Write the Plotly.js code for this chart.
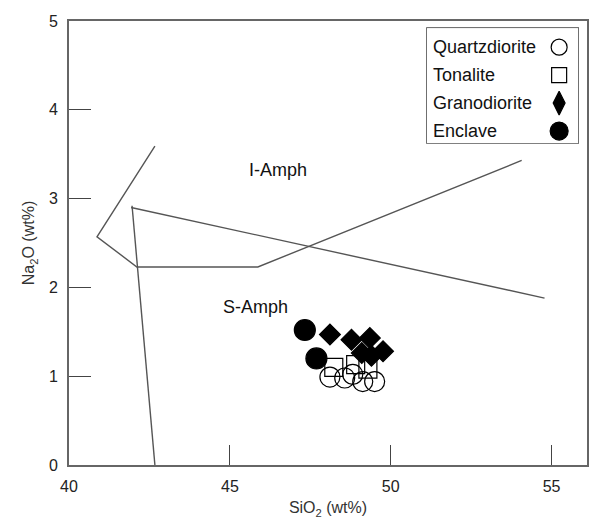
<!DOCTYPE html>
<html>
<head>
<meta charset="utf-8">
<script src="https://cdn.plot.ly/plotly-3.0.1.min.js"></script>
<style>html,body{margin:0;padding:0;background:#fff;}#chart{width:589px;height:524px;}</style>
</head>
<body>
<div id="chart"></div>
<script>
// Data
var categories = ["Quartzdiorite", "Tonalite", "Granodiorite", "Enclave"];

var quartzdiorite_SiO2 = [48.11, 48.57, 48.82, 49.13, 49.50];
var quartzdiorite_Na2O = [0.99, 0.98, 1.02, 0.94, 0.94];

var tonalite_SiO2 = [48.23, 48.91, 49.29];
var tonalite_Na2O = [1.10, 1.13, 1.08];

var granodiorite_SiO2 = [48.11, 48.78, 49.35, 49.10, 49.40, 49.76];
var granodiorite_Na2O = [1.47, 1.41, 1.43, 1.26, 1.23, 1.28];

var enclave_SiO2 = [47.33, 47.69];
var enclave_Na2O = [1.52, 1.20];

// Discrimination field boundaries
var boundaryA_SiO2 = [42.67, 40.87, 42.11, 45.87, 54.07];
var boundaryA_Na2O = [3.59, 2.57, 2.23, 2.23, 3.43];
var boundaryB_SiO2 = [41.93, 54.78];
var boundaryB_Na2O = [2.90, 1.88];
var boundaryC_SiO2 = [41.96, 42.67];
var boundaryC_Na2O = [2.92, 0.0];

var fieldLabels = ["I-Amph", "S-Amph"];
var fieldLabel_SiO2 = [46.49, 45.81];
var fieldLabel_Na2O = [3.32, 1.78];

var xTicks = [40, 45, 50, 55];
var yTicks = [0, 1, 2, 3, 4, 5];

// Styles
var symbols = ["circle-open", "square-open", "diamond", "circle"];
var legendSymbols = ["circle-open", "square-open", "diamond-tall", "circle"];
var sizes = [20, 18, 16, 21];
var legendSizes = [16, 15, 17, 18];
var lineColor = "#555";

var seriesX = [quartzdiorite_SiO2, tonalite_SiO2, granodiorite_SiO2, enclave_SiO2];
var seriesY = [quartzdiorite_Na2O, tonalite_Na2O, granodiorite_Na2O, enclave_Na2O];

var traces = [];
[[boundaryA_SiO2, boundaryA_Na2O], [boundaryB_SiO2, boundaryB_Na2O], [boundaryC_SiO2, boundaryC_Na2O]].forEach(function (b) {
  traces.push({
    x: b[0], y: b[1], type: "scatter", mode: "lines",
    line: {color: lineColor, width: 1.4}, hoverinfo: "skip", showlegend: false
  });
});

categories.forEach(function (c, i) {
  traces.push({
    x: seriesX[i], y: seriesY[i], type: "scatter", mode: "markers", name: c,
    marker: {symbol: symbols[i], size: sizes[i], color: "#000", line: {color: "#000", width: 1.2}},
    showlegend: false
  });
});

// Custom legend (symbol to the right of the text), on an overlay axis
var legendIdx = categories.map(function (c, i) { return i; });
categories.forEach(function (c, i) {
  traces.push({
    x: [0.874], y: [legendIdx[i]], xaxis: "x2", yaxis: "y2", type: "scatter", mode: "markers",
    marker: {symbol: legendSymbols[i], size: legendSizes[i], color: "#000", line: {color: "#000", width: 1.2}},
    showlegend: false, hoverinfo: "skip"
  });
});

var annotations = fieldLabels.map(function (t, i) {
  return {x: fieldLabel_SiO2[i], y: fieldLabel_Na2O[i], xref: "x", yref: "y", text: t,
          showarrow: false, font: {family: "Liberation Sans, Arial, sans-serif", size: 18, color: "#111"}};
});
categories.forEach(function (c, i) {
  annotations.push({x: 0.03, y: legendIdx[i], xref: "x2", yref: "y2", text: c, xanchor: "left",
                    showarrow: false, font: {family: "Liberation Sans, Arial, sans-serif", size: 18, color: "#111"}});
});

var legX0 = 0.691, legX1 = 0.983, legY0 = 0.725, legY1 = 0.984;

var layout = {
  width: 589, height: 524,
  margin: {l: 69, r: 2, t: 21, b: 59},
  paper_bgcolor: "#fff", plot_bgcolor: "#fff",
  showlegend: false,
  font: {family: "Liberation Sans, Arial, sans-serif", color: "#222"},
  xaxis: {
    range: [40, 56.1], tickvals: xTicks, ticks: "inside", ticklen: 20, tickwidth: 1.2, tickcolor: "#444",
    showline: true, linecolor: "#666", linewidth: 2, mirror: true, showgrid: false, zeroline: false,
    tickfont: {size: 16, color: "#222"}, ticklabelstandoff: 6,
    title: {text: "SiO<sub>2</sub> (wt%)", font: {size: 16, color: "#333"}, standoff: 8}
  },
  yaxis: {
    range: [0, 5], tickvals: yTicks, ticks: "inside", ticklen: 22, tickwidth: 1.2, tickcolor: "#444",
    showline: true, linecolor: "#666", linewidth: 2, mirror: true, showgrid: false, zeroline: false,
    tickfont: {size: 16, color: "#222"}, ticklabelstandoff: 6,
    title: {text: "Na<sub>2</sub>O (wt%)", font: {size: 16, color: "#333"}, standoff: 10}
  },
  xaxis2: {domain: [legX0, legX1], range: [0, 1], anchor: "y2", visible: false, fixedrange: true},
  yaxis2: {domain: [legY0, legY1], range: [3.43, -0.68], anchor: "x2", visible: false, fixedrange: true},
  shapes: [{type: "rect", xref: "paper", yref: "paper", x0: legX0, x1: legX1, y0: legY0, y1: legY1,
            line: {color: "#444", width: 1.5}, fillcolor: "rgba(0,0,0,0)", layer: "below"}],
  annotations: annotations
};

Plotly.newPlot("chart", traces, layout, {displayModeBar: false, staticPlot: true});
</script>
</body>
</html>
